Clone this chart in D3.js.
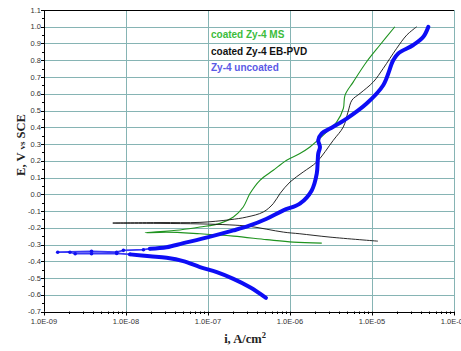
<!DOCTYPE html>
<html lang="en">
<head>
  <meta charset="UTF-8">
  <title>Polarization curves Zy-4</title>
  <script src="https://d3js.org/d3.v7.min.js"></script>
  <style>
    body { margin: 0; padding: 0; background: #fff; }
    .tick-label { font-family: Arial, "Liberation Sans", sans-serif; font-size: 7.5px; fill: #333; }
    .title { font-family: "Times New Roman", "Liberation Serif", serif; font-weight: bold; fill: #222; }
    .legend { font-family: Arial, "Liberation Sans", sans-serif; font-size: 10px; font-weight: bold; }
    .grid line { stroke: #86b4b4; stroke-width: 1; }
  </style>
</head>
<body>
<div id="chart"></div>
<script>
// potential E (V vs SCE) against current density i (A/cm2)
const yTicks = [-0.7, -0.6, -0.5, -0.4, -0.3, -0.2, -0.1, 0.0, 0.1, 0.2, 0.3, 0.4, 0.5, 0.6, 0.7, 0.8, 0.9, 1.0, 1.1];
const xTicks = [1e-9, 1e-8, 1e-7, 1e-6, 1e-5, 1e-4];

const green = [
  [2.44e-6, -0.292], [1.1e-6, -0.286], [5.2e-7, -0.271], [2.04e-7, -0.250], [7.98e-8, -0.236],
  [3.13e-8, -0.226], [1.71e-8, -0.230], [4.56e-8, -0.213], [7.98e-8, -0.196], [1.4e-7, -0.174],
  [2.04e-7, -0.136], [2.69e-7, -0.076], [3.25e-7, 0.004], [4.3e-7, 0.083], [6.25e-7, 0.143],
  [9.1e-7, 0.203], [1.32e-6, 0.243], [1.75e-6, 0.282], [2.81e-6, 0.372], [3.72e-6, 0.432],
  [4.47e-6, 0.512], [4.69e-6, 0.592], [5.92e-6, 0.671], [8.6e-6, 0.791], [1.25e-5, 0.891],
  [1.9e-5, 1.000]
];

const black = [
  [1.18e-5, -0.280], [3.08e-6, -0.256], [1.32e-6, -0.236], [8.3e-7, -0.226], [3.25e-7, -0.192],
  [1.85e-7, -0.183], [7.98e-8, -0.177], [2.6e-8, -0.174], [6.9e-9, -0.172], [2.6e-8, -0.169],
  [7.98e-8, -0.168], [1.85e-7, -0.152], [2.97e-7, -0.136], [4.72e-7, -0.106], [6.25e-7, -0.056],
  [7.55e-7, 0.004], [1.0e-6, 0.073], [1.45e-6, 0.133], [2.12e-6, 0.193], [3.37e-6, 0.322],
  [4.47e-6, 0.402], [5.09e-6, 0.490], [5.7e-6, 0.562], [7.15e-6, 0.602], [1.04e-5, 0.671],
  [1.37e-5, 0.751], [2.0e-5, 0.871], [2.65e-5, 0.950], [3.51e-5, 1.000]
];

const blueCath = [
  [5.09e-7, -0.618], [3.25e-7, -0.555], [2.04e-7, -0.505], [1.28e-7, -0.465], [7.98e-8, -0.435],
  [5.0e-8, -0.399], [3.13e-8, -0.379], [1.96e-8, -0.370], [1.12e-8, -0.359]
];

const blueLow = [
  [1.12e-8, -0.359], [7.7e-9, -0.353], [3.8e-9, -0.355], [2.4e-9, -0.355], [2.07e-9, -0.346],
  [1.47e-9, -0.346], [3.8e-9, -0.341], [7.7e-9, -0.346], [9.3e-9, -0.335], [1.63e-8, -0.331],
  [1.96e-8, -0.325]
];

const blueAnod = [
  [1.96e-8, -0.325], [3.13e-8, -0.316], [5.0e-8, -0.292], [1.01e-7, -0.256], [2.04e-7, -0.216],
  [3.25e-7, -0.186], [5.2e-7, -0.146], [8.3e-7, -0.096], [1.32e-6, -0.056], [1.84e-6, 0.023],
  [2.12e-6, 0.123], [2.18e-6, 0.203], [2.21e-6, 0.243], [2.32e-6, 0.282], [2.21e-6, 0.322],
  [2.44e-6, 0.363], [3.08e-6, 0.392], [4.91e-6, 0.452], [8.6e-6, 0.542], [1.37e-5, 0.651],
  [1.82e-5, 0.801], [2.09e-5, 0.841], [3.19e-5, 0.891], [4.23e-5, 0.940], [4.87e-5, 1.000]
];

const legendItems = [
  { label: "coated Zy-4 MS", color: "#3cbc3c" },
  { label: "coated Zy-4 EB-PVD", color: "#111" },
  { label: "Zy-4 uncoated", color: "#5a5ae6" }
];

const width = 461, height = 351;
const m = { left: 44, right: 7, top: 10, bottom: 40 };

const svg = d3.select("#chart").append("svg")
  .attr("width", width)
  .attr("height", height);

const x = d3.scaleLog().domain([1e-9, 1e-4]).range([m.left, width - m.right]);
const y = d3.scaleLinear().domain([-0.7, 1.1]).range([height - m.bottom + 0.5, m.top]);

// grid
const grid = svg.append("g").attr("class", "grid");
grid.selectAll(".h").data(yTicks.slice(1, -1)).join("line")
  .attr("x1", m.left).attr("x2", x(1e-4))
  .attr("y1", d => Math.round(y(d)) + 0.5).attr("y2", d => Math.round(y(d)) + 0.5);
grid.selectAll(".v").data(xTicks.slice(1)).join("line")
  .attr("x1", d => Math.round(x(d)) + 0.5).attr("x2", d => Math.round(x(d)) + 0.5)
  .attr("y1", y(1.1)).attr("y2", y(-0.7));

// frame
svg.append("line").attr("x1", m.left).attr("x2", x(1e-4))
  .attr("y1", Math.round(y(1.1)) + 0.5).attr("y2", Math.round(y(1.1)) + 0.5)
  .attr("stroke", "#000");
svg.append("line").attr("x1", m.left).attr("x2", x(1e-4))
  .attr("y1", Math.round(y(-0.7)) + 0.5).attr("y2", Math.round(y(-0.7)) + 0.5)
  .attr("stroke", "#000");
svg.append("line").attr("x1", m.left + 0.5).attr("x2", m.left + 0.5)
  .attr("y1", y(1.1)).attr("y2", y(-0.7)).attr("stroke", "#000");

// y ticks
const yAx = svg.append("g");
yAx.selectAll("line.maj").data(yTicks).join("line")
  .attr("x1", m.left - 3).attr("x2", m.left)
  .attr("y1", d => Math.round(y(d)) + 0.5).attr("y2", d => Math.round(y(d)) + 0.5)
  .attr("stroke", "#000");
yAx.selectAll("line.min").data(yTicks.slice(0, -1)).join("line")
  .attr("x1", m.left - 2).attr("x2", m.left)
  .attr("y1", d => Math.round(y(d + 0.05)) + 0.5).attr("y2", d => Math.round(y(d + 0.05)) + 0.5)
  .attr("stroke", "#000");
yAx.selectAll("text").data(yTicks).join("text")
  .attr("class", "tick-label")
  .attr("x", m.left - 3).attr("y", d => y(d) + 2.5)
  .attr("text-anchor", "end")
  .text(d => d3.format(".1f")(d).replace("−", "-"));

// x ticks
const fmtE = d => "1.0E-" + String(-Math.round(Math.log10(d))).padStart(2, "0");
const xAx = svg.append("g");
const minors = [];
xTicks.slice(0, -1).forEach(t => { for (let k = 2; k < 10; k++) minors.push(t * k); });
xAx.selectAll("line.min").data(minors).join("line")
  .attr("x1", d => Math.round(x(d)) + 0.5).attr("x2", d => Math.round(x(d)) + 0.5)
  .attr("y1", y(-0.7)).attr("y2", y(-0.7) + 2.5)
  .attr("stroke", "#000");
xAx.selectAll("line.maj").data(xTicks).join("line")
  .attr("x1", d => Math.round(x(d)) + 0.5).attr("x2", d => Math.round(x(d)) + 0.5)
  .attr("y1", y(-0.7)).attr("y2", y(-0.7) + 4)
  .attr("stroke", "#000");
xAx.selectAll("text").data(xTicks).join("text")
  .attr("class", "tick-label")
  .attr("x", d => x(d)).attr("y", y(-0.7) + 12)
  .attr("text-anchor", "middle")
  .text(fmtE);

// curves (smoothed, as in the source plot)
const line = d3.line().x(d => x(d[0])).y(d => y(d[1])).curve(d3.curveCatmullRom.alpha(0.5));
const plot = svg.append("g");
plot.append("path").datum(green).attr("d", line)
  .attr("fill", "none").attr("stroke", "#1f931f").attr("stroke-width", 1.1);
plot.append("path").datum(black).attr("d", line)
  .attr("fill", "none").attr("stroke", "#111").attr("stroke-width", 0.9);
plot.append("path").datum(blueLow).attr("d", d3.line().x(d => x(d[0])).y(d => y(d[1])))
  .attr("fill", "none").attr("stroke", "#3a3af5").attr("stroke-width", 1.8);
plot.selectAll("circle").data(blueLow).join("circle")
  .attr("cx", d => x(d[0])).attr("cy", d => y(d[1])).attr("r", 1.8)
  .attr("fill", "#1010f0");
plot.append("path").datum(blueCath).attr("d", line)
  .attr("fill", "none").attr("stroke", "#0d0df5").attr("stroke-width", 4)
  .attr("stroke-linecap", "round").attr("stroke-linejoin", "round");
plot.append("path").datum(blueAnod).attr("d", line)
  .attr("fill", "none").attr("stroke", "#0d0df5").attr("stroke-width", 4)
  .attr("stroke-linecap", "round").attr("stroke-linejoin", "round");

// legend
svg.append("g").selectAll("text").data(legendItems).join("text")
  .attr("class", "legend")
  .attr("x", 211).attr("y", (d, i) => 38 + i * 16.5)
  .attr("fill", d => d.color)
  .text(d => d.label);

// axis titles
const yt = svg.append("text").attr("class", "title")
  .attr("transform", `translate(25,${145}) rotate(-90)`)
  .attr("text-anchor", "middle").attr("font-size", 12.5);
yt.append("tspan").text("E, V ");
yt.append("tspan").attr("font-size", 9).text("vs");
yt.append("tspan").text(" SCE");

const xt = svg.append("text").attr("class", "title")
  .attr("x", 245).attr("y", 343).attr("text-anchor", "middle").attr("font-size", 12.5);
xt.append("tspan").text("i, A/cm");
xt.append("tspan").attr("dy", -5).attr("font-size", 8.5).text("2");
</script>
</body>
</html>
